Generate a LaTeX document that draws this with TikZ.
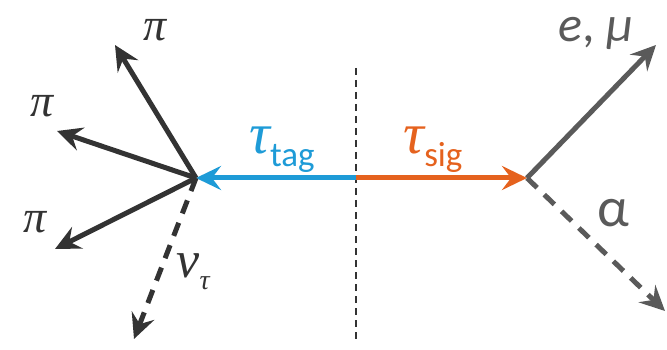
\documentclass[tikz,border=0pt]{standalone}
\usepackage{fontspec}
\setsansfont{Carlito}
\newfontfamily\grk{Liberation Serif}
\usetikzlibrary{arrows.meta}
\definecolor{tagblue}{HTML}{1E9BD7}
\definecolor{sigorange}{HTML}{E5621E}
\definecolor{dark}{HTML}{333333}
\definecolor{mid}{HTML}{5A5A5A}
\tikzset{
  prong/.style={line width=5pt, -{Stealth[length=25pt,width=24pt,inset=9pt]}},
  dashprong/.style={prong, dash pattern=on 14pt off 10pt},
  lbl/.style={inner sep=0pt, anchor=center},
}
\begin{document}
\begin{tikzpicture}[x=1pt,y=-1pt]
\useasboundingbox (0,0) rectangle (667,350);
% vertices
\coordinate (vl) at (196,178);
\coordinate (vc) at (356,178);
\coordinate (vr) at (527,178);
% end points
\coordinate (p1) at (115,45);
\coordinate (p2) at (57,131);
\coordinate (p3) at (55,249);
\coordinate (nu) at (134,339);
\coordinate (lep) at (656,45);
\coordinate (al) at (665,311);
\coordinate (ct) at (356,68);
\coordinate (cb) at (356,342);
% separating line
\draw[dark, line width=2.2pt, dash pattern=on 7pt off 5pt] (ct) -- (cb);
% tau pair
\draw[prong, tagblue] (vc) -- (vl);
\draw[prong, sigorange] (vc) -- (vr);
% tag side decay
\draw[prong, dark] (vl) -- (p1);
\draw[prong, dark] (vl) -- (p2);
\draw[prong, dark] (vl) -- (p3);
\draw[dashprong, dark] (vl) -- (nu);
% signal side decay
\draw[prong, mid] (vr) -- (lep);
\draw[dashprong, mid] (vr) -- (al);
% labels
\node[lbl, dark] (lp1) at (155,30) {\grk\itshape\fontsize{46}{46}\selectfont π};
\node[lbl, dark] (lp2) at (42,106) {\grk\itshape\fontsize{46}{46}\selectfont π};
\node[lbl, dark] (lp3) at (35,222) {\grk\itshape\fontsize{46}{46}\selectfont π};
\node[lbl, dark] (lnu) at (193,272) {\grk\itshape\fontsize{52}{52}\selectfont ν\raisebox{-12pt}{\fontsize{28}{28}\selectfont τ}};
\node[lbl, tagblue] (ltag) at (282,150) {\grk\itshape\fontsize{58}{58}\selectfont τ\raisebox{-13pt}{\upshape\sffamily\fontsize{35}{35}\selectfont tag}};
\node[lbl, sigorange] (lsig) at (433,150) {\grk\itshape\fontsize{58}{58}\selectfont τ\raisebox{-13pt}{\upshape\sffamily\fontsize{35}{35}\selectfont sig}};
\node[lbl, mid] (llep) at (596,33) {\sffamily\fontsize{50}{50}\selectfont\textit{e}, \textit{μ}};
\node[lbl, mid] (lal) at (613,213) {\sffamily\fontsize{56}{56}\selectfont α};
\end{tikzpicture}
\end{document}
